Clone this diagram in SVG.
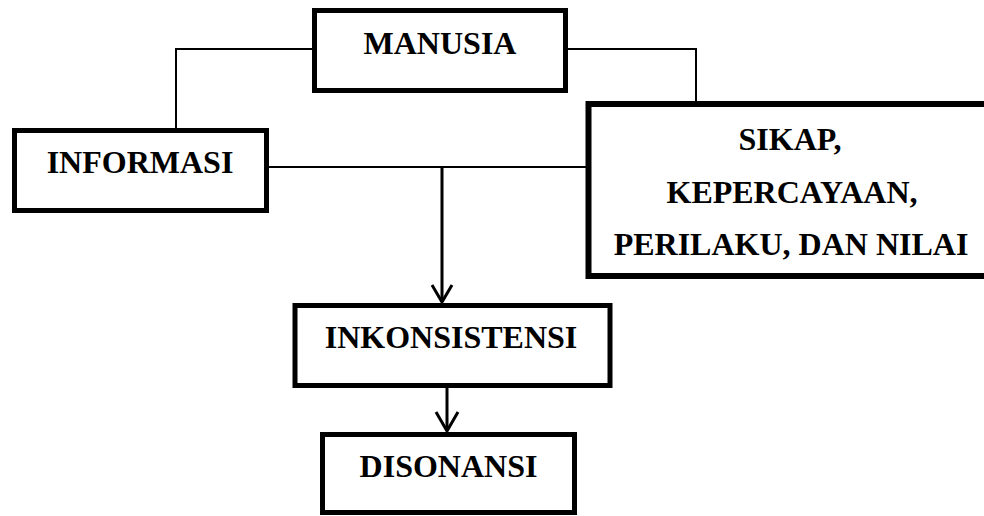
<svg xmlns="http://www.w3.org/2000/svg" width="984" height="516" viewBox="0 0 984 516">
<style>
.box{fill:#fff;stroke:#000;stroke-width:5}
.thick{stroke-width:6}
.t{font-family:"Liberation Serif","Times New Roman",serif;font-weight:bold;font-size:32px;fill:#000;text-anchor:middle}
.ln{fill:none;stroke:#000;stroke-width:2}
.ar{fill:none;stroke:#000;stroke-width:3}
</style>
<rect width="984" height="516" fill="#fff"/>
<g id="connectors">
<polyline class="ln" points="312,49 176,49 176,128"/>
<polyline class="ln" points="568,49 696,49 696,101"/>
<line class="ln" x1="269" y1="167" x2="586" y2="167" stroke-width="2.5"/>
<line class="ar" x1="442" y1="167" x2="442" y2="302"/>
<polyline class="ar" points="432,285 442,302 452,285"/>
<line class="ar" x1="447" y1="388" x2="447" y2="431"/>
<polyline class="ar" points="436,412 447,431 458,412"/>
</g>
<g id="manusia">
<rect class="box" x="314.5" y="10.5" width="251" height="80"/>
<text class="t" x="440" y="54">MANUSIA</text>
</g>
<g id="informasi">
<rect class="box" x="14.5" y="130.5" width="252" height="80"/>
<text class="t" x="140" y="173">INFORMASI</text>
</g>
<g id="sikap">
<rect class="box thick" x="588.5" y="104" width="420" height="172"/>
<text class="t" x="790" y="150">SIKAP,</text>
<text class="t" x="792" y="203">KEPERCAYAAN,</text>
<text class="t" x="791" y="255">PERILAKU, DAN NILAI</text>
</g>
<g id="inkonsistensi">
<rect class="box" x="295" y="305.5" width="315" height="80"/>
<text class="t" x="451" y="348">INKONSISTENSI</text>
</g>
<g id="disonansi">
<rect class="box" x="322.5" y="434.5" width="252" height="78"/>
<text class="t" x="448.5" y="477">DISONANSI</text>
</g>
</svg>
